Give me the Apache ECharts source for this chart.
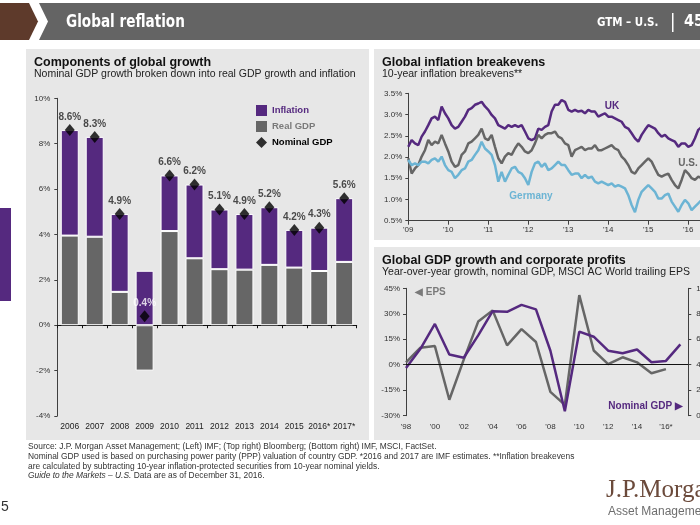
<!DOCTYPE html>
<html>
<head>
<meta charset="utf-8">
<script src="https://cdn.jsdelivr.net/npm/echarts@6.0.0/dist/echarts.min.js"></script>
<style>
html,body{margin:0;padding:0;background:#ffffff;overflow:hidden;}
#chart{width:700px;height:525px;}
</style>
</head>
<body>
<div id="chart"></div>
<script>
// ---------- Components of global growth ----------
const growthYears = ['2006','2007','2008','2009','2010','2011','2012','2013','2014','2015','2016*','2017*'];
const realGDP    = [3.95, 3.9, 1.47, -2.0, 4.15, 2.95, 2.47, 2.45, 2.66, 2.54, 2.39, 2.79];
const inflation  = [4.65, 4.4, 3.43, 2.4, 2.45, 3.25, 2.63, 2.45, 2.54, 1.66, 1.91, 2.81];
const nominalGDP = [8.6, 8.3, 4.9, 0.4, 6.6, 6.2, 5.1, 4.9, 5.2, 4.2, 4.3, 5.6];
const growthYTicks = [-4, -2, 0, 2, 4, 6, 8, 10];

// ---------- Global inflation breakevens (monthly, from Jan 2009) ----------
const breakevenStartYear = 2009;
const ukBreakeven = [2.24,2.40,2.32,2.28,2.48,2.60,2.75,2.91,2.95,2.87,3.19,3.03,2.91,2.75,2.67,2.71,2.83,2.95,3.11,3.15,
  3.23,3.26,3.30,3.19,3.11,2.99,2.91,2.75,2.71,2.67,2.75,2.71,2.75,2.71,2.75,2.60,2.44,2.40,2.44,2.67,
  2.64,2.71,2.75,3.07,3.23,
  3.23,3.34,3.30,3.11,3.07,3.11,3.07,3.09,3.03,3.11,3.07,3.07,2.95,2.99,3.03,2.95,2.95,2.91,2.87,2.83,
  2.71,2.67,2.56,2.44,2.36,2.52,2.64,2.75,2.71,2.67,2.56,2.48,2.52,2.44,2.40,2.36,2.24,2.32,2.32,2.24,
  2.28,2.44,2.64,2.71];
const usBreakeven = [1.97,1.61,1.73,1.81,2.01,2.16,2.40,2.28,2.36,2.32,2.52,2.32,2.13,1.89,1.77,1.81,2.05,2.13,2.32,2.36,
  2.44,2.52,2.67,2.44,2.40,2.52,2.24,1.97,1.85,2.01,2.09,2.05,2.20,2.32,2.24,2.13,2.09,2.16,2.32,2.52,
  2.44,2.52,2.56,2.56,2.60,
  2.48,2.44,2.32,2.28,2.01,2.16,2.20,2.24,2.16,2.20,2.20,2.28,2.16,2.16,2.20,2.24,2.28,2.20,2.16,2.01,
  1.93,1.81,1.65,1.61,1.73,1.81,1.89,1.97,1.89,1.73,1.58,1.54,1.58,1.61,1.46,1.34,1.26,1.46,1.69,1.61,
  1.50,1.46,1.54,1.50];
const germanyBreakeven = [1.93,1.81,1.85,1.81,1.89,1.89,1.85,1.93,1.97,1.89,2.01,1.81,1.69,1.65,1.50,1.58,1.69,1.73,1.89,1.93,
  2.05,2.16,2.36,2.20,2.13,2.05,1.81,1.42,1.65,1.42,1.58,1.73,1.77,1.65,1.61,1.50,1.34,1.65,1.85,1.89,
  1.77,1.85,1.69,1.73,1.81,
  1.89,1.81,1.81,1.69,1.58,1.61,1.61,1.50,1.58,1.50,1.54,1.42,1.38,1.42,1.38,1.34,1.38,1.30,1.34,1.30,
  1.26,1.10,0.87,0.70,0.99,1.18,1.26,1.34,1.26,1.18,1.02,1.02,1.10,1.14,0.95,0.83,0.71,0.87,0.99,0.91,
  0.75,0.83,0.91,0.99];
const breakevenYTicks = [0.5, 1.0, 1.5, 2.0, 2.5, 3.0, 3.5];

// ---------- Global GDP growth and corporate profits ----------
const profitYears = [1998,1999,2000,2001,2002,2003,2004,2005,2006,2007,2008,2009,2010,2011,2012,2013,2014,2015,2016,2017];
const epsGrowth   = [1.4, 10, 11, -20.6, 3, 25.4, 32, 11.4, 21, 13.4, -16, -23.6, 41, 8.4, 0.4, 4.4, 1.4, -5, -2.6];
const nominalGDPGrowth = [3.75, 5.25, 7.2, 4.8, 4.55, 6.3, 8.2, 8.15, 8.7, 8.35, 5.1, 0.35, 6.6, 6.2, 5.1, 4.9, 5.2, 4.2, 4.3, 5.6];
const epsYTicks = [-30, -15, 0, 15, 30, 45];
const gdpYTicks = [0, 2, 4, 6, 8, 10];

// ---------- styles ----------
const FONT = '"Liberation Sans", Arial, sans-serif';
const NARROW = '"Liberation Sans Narrow", "DejaVu Sans Condensed", "Liberation Sans", sans-serif';
const PURPLE = '#55297f';
const GRAY = '#666666';
const BLUE = '#6cb4d4';
const AXIS = '#404040';
const LABEL = '#333333';

const chart = echarts.init(document.getElementById('chart'), null, {renderer: 'canvas', width: 700, height: 525});

function valueAxis(grid, ticks, fmt, extra) {
  return Object.assign({
    type: 'value', gridIndex: grid,
    min: ticks[0], max: ticks[ticks.length - 1], interval: ticks[1] - ticks[0],
    axisLine: {show: true, lineStyle: {color: AXIS, width: 1}},
    axisTick: {show: true, length: 3, lineStyle: {color: AXIS}},
    axisLabel: {formatter: fmt, fontSize: 8, color: LABEL, fontFamily: FONT, margin: 6},
    splitLine: {show: false}
  }, extra || {});
}

const titleText = {fontSize: 12.5, fontWeight: 'bold', color: '#111', fontFamily: FONT};
const subText = {fontSize: 10.5, color: '#222', fontFamily: FONT};
const FOOT = '8.4px ' + FONT;

const option = {
  animation: false,
  backgroundColor: '#ffffff',
  textStyle: {fontFamily: FONT},
  title: [
    {text: 'Components of global growth', subtext: 'Nominal GDP growth broken down into real GDP growth and inflation',
     left: 34, top: 56, padding: 0, itemGap: 0, textStyle: titleText, subtextStyle: subText},
    {text: 'Global inflation breakevens', subtext: '10-year inflation breakevens**',
     left: 382, top: 56, padding: 0, itemGap: 0, textStyle: titleText, subtextStyle: subText},
    {text: 'Global GDP growth and corporate profits', subtext: 'Year-over-year growth, nominal GDP, MSCI AC World trailing EPS',
     left: 382, top: 254, padding: 0, itemGap: 0, textStyle: titleText, subtextStyle: subText}
  ],
  legend: {
    selectedMode: false, orient: 'vertical', left: 251, top: 100,
    itemWidth: 11, itemHeight: 11, itemGap: 5,
    textStyle: {fontSize: 9.5, fontWeight: 'bold', fontFamily: FONT},
    data: [
      {name: 'Inflation', icon: 'rect', itemStyle: {borderWidth: 0}, textStyle: {color: PURPLE}},
      {name: 'Real GDP', icon: 'rect', itemStyle: {borderWidth: 0}, textStyle: {color: '#7a7a7a'}},
      {name: 'Nominal GDP', icon: 'diamond', textStyle: {color: '#000'}}
    ]
  },
  grid: [
    {left: 57.3, top: 98.3, width: 299.4, height: 317.7, containLabel: false, outerBoundsMode: 'none'},
    {left: 408.3, top: 93.3, width: 320, height: 127.4, containLabel: false, outerBoundsMode: 'none'},
    {left: 406, top: 288.3, width: 282.3, height: 127.4, containLabel: false, outerBoundsMode: 'none'}
  ],
  xAxis: [
    {type: 'category', gridIndex: 0, data: growthYears,
     axisLine: {show: true, onZero: true, lineStyle: {color: '#111', width: 1}},
     axisTick: {show: true, alignWithLabel: false, length: 3, lineStyle: {color: '#111'}},
     axisLabel: {fontSize: 8.5, color: '#222', fontFamily: FONT, margin: 6, interval: 0},
     splitLine: {show: false}},
    {type: 'value', gridIndex: 1, min: breakevenStartYear, max: breakevenStartYear + 8, interval: 1,
     axisLine: {show: true, onZero: false, lineStyle: {color: AXIS}},
     axisTick: {show: true, length: 4, lineStyle: {color: AXIS}},
     axisLabel: {fontSize: 8, color: LABEL, fontFamily: FONT, margin: 5,
       formatter: v => "'" + String(Math.round(v)).slice(2)},
     splitLine: {show: false}},
    {type: 'value', gridIndex: 2, min: profitYears[0], max: 2017.55, interval: 2,
     axisLine: {show: false, onZero: false}, axisTick: {show: false},
     axisLabel: {fontSize: 8, color: LABEL, fontFamily: FONT, margin: 7, showMaxLabel: false,
       formatter: v => (Number.isInteger(v) && v % 2 === 0) ? "'" + String(v).slice(2) + (v === 2016 ? '*' : '') : ''},
     splitLine: {show: false}}
  ],
  yAxis: [
    valueAxis(0, growthYTicks, '{value}%', {axisLabel: {formatter: '{value}%', fontSize: 8, color: LABEL, fontFamily: FONT, margin: 7}}),
    valueAxis(1, breakevenYTicks, v => v.toFixed(1) + '%'),
    valueAxis(2, epsYTicks, '{value}%'),
    valueAxis(2, gdpYTicks, '{value}%', {position: 'right', axisLabel: {formatter: '{value}%', fontSize: 8, color: LABEL, fontFamily: FONT, margin: 8}})
  ],
  series: [
    {name: 'Real GDP', type: 'bar', stack: 'growth', xAxisIndex: 0, yAxisIndex: 0, data: realGDP,
     barWidth: 18, itemStyle: {color: GRAY, borderColor: '#ffffff', borderWidth: 1}},
    {name: 'Inflation', type: 'bar', stack: 'growth', xAxisIndex: 0, yAxisIndex: 0, data: inflation,
     barWidth: 18, itemStyle: {color: PURPLE, borderColor: '#ffffff', borderWidth: 1}},
    {name: 'Nominal GDP', type: 'scatter', xAxisIndex: 0, yAxisIndex: 0, symbol: 'diamond', symbolSize: [10, 12],
     itemStyle: {color: '#000'}, z: 5,
     label: {show: true, position: 'top', distance: 2, fontSize: 10, fontWeight: 'bold', color: '#222', fontFamily: FONT,
       formatter: p => p.value.toFixed(1) + '%'},
     data: nominalGDP.map((v, i) => growthYears[i] === '2009' ? {value: v, label: {color: '#ffffff'}} : {value: v})},

    {name: 'UK', type: 'line', xAxisIndex: 1, yAxisIndex: 1, showSymbol: false, lineStyle: {color: PURPLE, width: 2.5},
     data: ukBreakeven.map((v, i) => [breakevenStartYear + i / 12, v])},
    {name: 'U.S.', type: 'line', xAxisIndex: 1, yAxisIndex: 1, showSymbol: false, lineStyle: {color: GRAY, width: 2.5},
     data: usBreakeven.map((v, i) => [breakevenStartYear + i / 12, v])},
    {name: 'Germany', type: 'line', xAxisIndex: 1, yAxisIndex: 1, showSymbol: false, lineStyle: {color: BLUE, width: 2.5},
     data: germanyBreakeven.map((v, i) => [breakevenStartYear + i / 12, v])},

    {name: 'EPS', type: 'line', xAxisIndex: 2, yAxisIndex: 2, showSymbol: false, lineStyle: {color: GRAY, width: 2.5},
     data: epsGrowth.map((v, i) => [profitYears[i], v]),
     markLine: {silent: true, symbol: 'none', label: {show: false}, lineStyle: {color: '#111', width: 1, type: 'solid'},
       data: [{yAxis: 0}]}},
    {name: 'Nominal GDP growth', type: 'line', xAxisIndex: 2, yAxisIndex: 3, showSymbol: false, lineStyle: {color: PURPLE, width: 2.5},
     data: nominalGDPGrowth.map((v, i) => [profitYears[i], v])}
  ],
  graphic: [
    // panels
    {type: 'rect', silent: true, z: -10, shape: {x: 26, y: 49, width: 343, height: 391}, style: {fill: '#e7e7e7'}},
    {type: 'rect', silent: true, z: -10, shape: {x: 374, y: 49, width: 326, height: 191}, style: {fill: '#e7e7e7'}},
    {type: 'rect', silent: true, z: -10, shape: {x: 374, y: 247, width: 326, height: 193}, style: {fill: '#e7e7e7'}},
    {type: 'rect', silent: true, z: -10, shape: {x: 0, y: 208, width: 11, height: 93}, style: {fill: PURPLE}},
    // header
    {type: 'polygon', silent: true, z: -10, shape: {points: [[0, 3], [29, 3], [38, 21.5], [29, 40], [0, 40]]}, style: {fill: '#5e3a2b'}},
    {type: 'polygon', silent: true, z: -10, shape: {points: [[39, 3], [700, 3], [700, 40], [39, 40], [48, 21.5]]}, style: {fill: '#646464'}},
    {type: 'text', silent: true, z: 50, x: 66, y: 22, scaleX: 0.84, style: {text: 'Global reflation', fill: '#ffffff',
      font: 'bold 18px ' + NARROW, verticalAlign: 'middle'}},
    {type: 'text', silent: true, z: 50, x: 597, y: 23, scaleX: 0.88, style: {text: 'GTM – U.S.', fill: '#ffffff',
      font: 'bold 13px ' + NARROW, verticalAlign: 'middle'}},
    {type: 'rect', silent: true, z: 50, shape: {x: 672, y: 13, width: 1.5, height: 19}, style: {fill: '#ffffff'}},
    {type: 'text', silent: true, z: 50, x: 684, y: 22, style: {text: '45', fill: '#ffffff',
      font: 'bold 16px ' + NARROW, verticalAlign: 'middle'}},
    // line labels
    {type: 'text', silent: true, z: 50, x: 612, y: 106, style: {text: 'UK', fill: PURPLE, font: 'bold 10px ' + FONT, align: 'center', verticalAlign: 'middle'}},
    {type: 'text', silent: true, z: 50, x: 688, y: 163, style: {text: 'U.S.', fill: GRAY, font: 'bold 10px ' + FONT, align: 'center', verticalAlign: 'middle'}},
    {type: 'text', silent: true, z: 50, x: 531, y: 196, style: {text: 'Germany', fill: BLUE, font: 'bold 10px ' + FONT, align: 'center', verticalAlign: 'middle'}},
    {type: 'text', silent: true, z: 50, x: 415, y: 292, style: {text: '◀ EPS', fill: '#7a7a7a', font: 'bold 10px ' + FONT, verticalAlign: 'middle'}},
    {type: 'text', silent: true, z: 50, x: 683, y: 406.5, style: {text: 'Nominal GDP ▶', fill: PURPLE, font: 'bold 10px ' + FONT, align: 'right', verticalAlign: 'middle'}},
    // footer
    {type: 'text', silent: true, z: 50, x: 28, y: 447, style: {text: 'Source: J.P. Morgan Asset Management; (Left) IMF; (Top right) Bloomberg; (Bottom right) IMF, MSCI, FactSet.',
      fill: '#333', font: FOOT, verticalAlign: 'middle'}},
    {type: 'text', silent: true, z: 50, x: 28, y: 457, style: {text: 'Nominal GDP used is based on purchasing power parity (PPP) valuation of country GDP. *2016 and 2017 are IMF estimates. **Inflation breakevens',
      fill: '#333', font: FOOT, verticalAlign: 'middle'}},
    {type: 'text', silent: true, z: 50, x: 28, y: 466.5, style: {text: 'are calculated by subtracting 10-year inflation-protected securities from 10-year nominal yields.',
      fill: '#333', font: FOOT, verticalAlign: 'middle'}},
    {type: 'text', silent: true, z: 50, x: 28, y: 476, style: {text: '{i|Guide to the Markets – U.S.} Data are as of December 31, 2016.',
      fill: '#333', font: FOOT, verticalAlign: 'middle',
      rich: {i: {fontStyle: 'italic', fontSize: 8.4, fontFamily: FONT, fill: '#333'}}}},
    // page number and logo
    {type: 'text', silent: true, z: 50, x: 1, y: 507, style: {text: '5', fill: '#333', font: '14px ' + FONT, verticalAlign: 'middle'}},
    {type: 'text', silent: true, z: 50, x: 606, y: 490, style: {text: 'J.P.Morgan', fill: '#6b4a3b', font: '25px "Liberation Serif", serif', verticalAlign: 'middle'}},
    {type: 'text', silent: true, z: 50, x: 608, y: 512, style: {text: 'Asset Management', fill: '#6e6e6e', font: '12px ' + FONT, verticalAlign: 'middle'}}
  ]
};
chart.setOption(option);
</script>
</body>
</html>
